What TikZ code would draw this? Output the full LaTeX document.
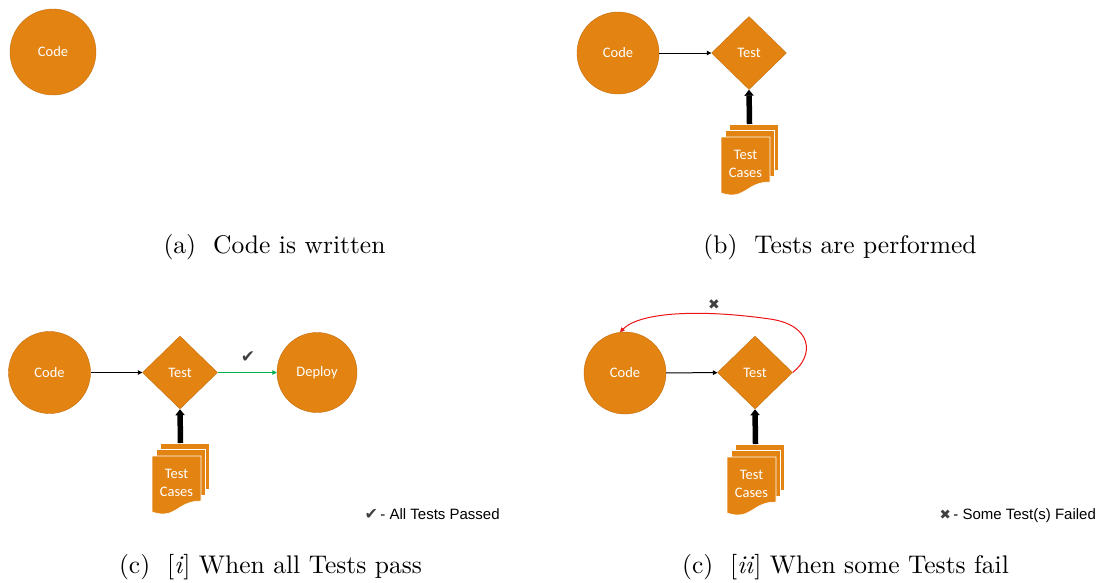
\documentclass[tikz,border=0pt]{standalone}
\usepackage{fontspec}
\usetikzlibrary{shapes.geometric,arrows.meta}
\newfontfamily\carlito{Carlito}
\newfontfamily\arial{Liberation Sans}
\newfontfamily\dejavu{DejaVu Sans}
\newfontfamily\capfont{lmroman10-regular.otf}[ItalicFont=lmroman10-italic.otf]
\definecolor{flow}{RGB}{227,131,18}
\definecolor{flowedge}{RGB}{196,110,14}
\definecolor{markgray}{RGB}{64,64,64}
\definecolor{passgreen}{RGB}{0,176,80}
\definecolor{failred}{RGB}{235,20,20}

\tikzset{
  shapefont/.style={text=white, font=\carlito\fontsize{14.5}{17.5}\selectfont},
  proc/.style={circle, fill=flow, draw=flowedge, line width=0.4pt,
    minimum size=82pt, inner sep=0pt, shapefont},
  dec/.style={diamond, fill=flow, draw=flowedge, line width=0.4pt,
    minimum width=75pt, minimum height=73pt, inner sep=0pt, shapefont},
  page/.style={fill=flow, draw=white, line width=0.6pt},
  flowarrow/.style={-{Triangle[width=4.5pt,length=4.5pt]}, line width=1pt},
  feed/.style={-{Triangle[width=9pt,length=6pt]}, line width=5.5pt},
  caption/.style={font=\capfont\fontsize{25.5}{30}\selectfont, anchor=base},
  legend/.style={font=\arial\fontsize{15}{18}\selectfont, anchor=base west},
  statusmark/.style={text=markgray, font=\dejavu\fontsize{17}{20}\selectfont},
}

% stack of three test-case documents; #1 name, (#2,#3) top-left of the front page
\newcommand\casestack[3]{%
  \begin{scope}[shift={(#2,#3)}]
    \filldraw[page] (8,-13) rectangle (57,33);
    \filldraw[page] (4,-6.5) rectangle (53,39.5);
    \filldraw[page] (0,0) -- (49,0) -- (49,45)
      .. controls (24.5,45) and (24.5,64) .. (0,56) -- cycle;
    \node[shapefont, align=center] (#1) at (24.5,27) {Test\\Cases};
    \coordinate (#1top) at (28.5,-13);
  \end{scope}}

\begin{document}
\begin{tikzpicture}[x=1pt,y=-1pt]
\useasboundingbox (0,0) rectangle (1099,582);

% (a) code only
\node[proc, minimum size=86pt] (codeA) at (53,52) {Code};
\node[caption] (capA) at (274.5,253) {(a)\ \ Code is written};

% (b) code goes to test, fed by test cases
\node[proc] (codeB) at (618,53) {Code};
\node[dec] (testB) at (749,53) {Test};
\casestack{casesB}{721}{137}
\draw[flowarrow] (codeB) -- (testB);
\draw[feed] (casesBtop) -- (testB.south);
\node[caption] (capB) at (840,253) {(b)\ \ Tests are performed};

% (c)[i] all tests pass: deploy
\node[proc] (codeC) at (49.5,372.5) {Code};
\node[dec] (testC) at (180,372.5) {Test};
\node[proc, minimum size=80pt] (deployC) at (317,372.5) {Deploy};
\casestack{casesC}{152}{456}
\draw[flowarrow] (codeC) -- (testC);
\draw[flowarrow, passgreen] (testC) -- (deployC);
\draw[feed] (casesCtop) -- (testC.south);
\node[statusmark] (passC) at (248,357) {✔};
\node[legend] (legC) at (361,519) {{\dejavu\color{markgray}\fontsize{16}{18}\selectfont ✔}\,- All Tests Passed};
\node[caption] (capC) at (270.5,573) {(c)\ \ [\textit{i}] When all Tests pass};

% (c)[ii] some tests fail: back to code
\node[proc] (codeD) at (625,373) {Code};
\node[dec] (testD) at (755,372.5) {Test};
\casestack{casesD}{727}{457}
\draw[flowarrow] (codeD) -- (testD);
\draw[feed] (casesDtop) -- (testD.south);
\draw[failred, line width=1pt, -{Triangle[width=4.5pt,length=4.5pt]}]
  (testD.east) .. controls (815,355) and (812,325) .. (770,319)
  .. controls (700,309) and (640,312) .. (codeD.97);
\node[statusmark, font=\dejavu\fontsize{14}{16}\selectfont] (failD) at (714,305) {✖};
\node[legend] (legD) at (936,519) {{\dejavu\color{markgray}\fontsize{13.5}{16}\selectfont ✖}\,- Some Test(s) Failed};
\node[caption] (capD) at (845.5,573) {(c)\ \ [\textit{ii}] When some Tests fail};
\end{tikzpicture}
\end{document}
